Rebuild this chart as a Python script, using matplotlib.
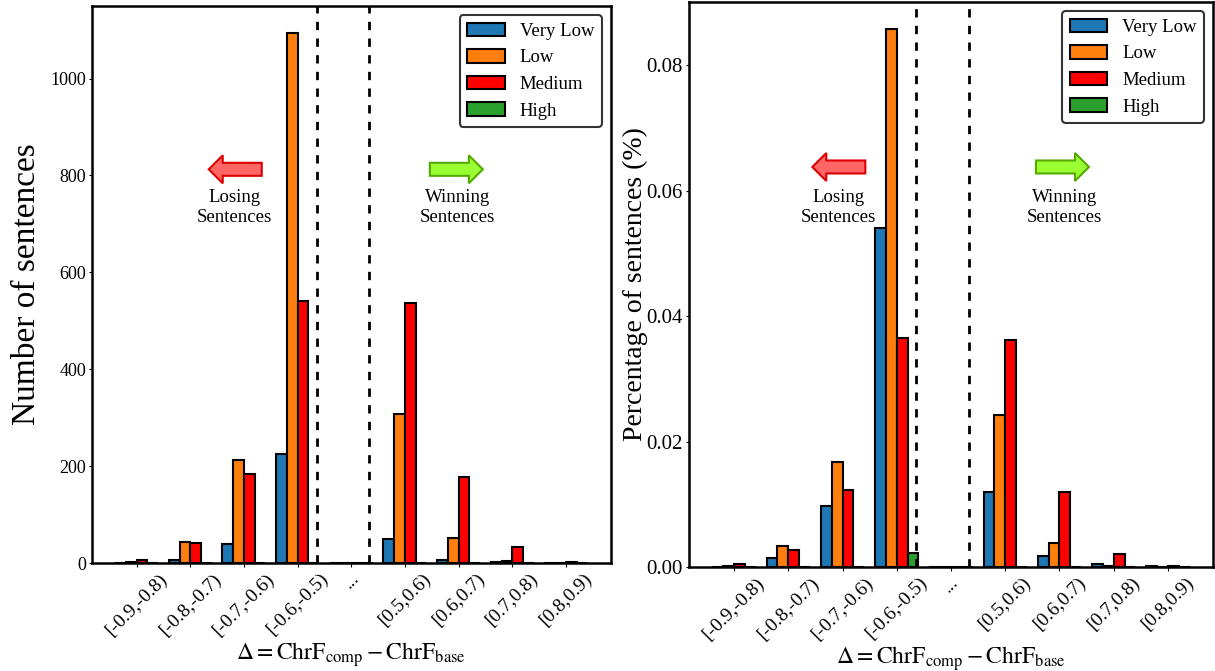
import numpy as np
import matplotlib
matplotlib.use("Agg")
import matplotlib.pyplot as plt
import matplotlib.transforms as mtransforms
from matplotlib.patches import FancyArrow
from matplotlib.ticker import FormatStrFormatter, FuncFormatter

plt.rcParams['font.family'] = ['Liberation Serif', 'DejaVu Serif']
plt.rcParams['mathtext.fontset'] = 'stix'

bins = ['[-0.9,-0.8)', '[-0.8,-0.7)', '[-0.7,-0.6)', '[-0.6,-0.5)', '...',
        '[0.5,0.6)', '[0.6,0.7)', '[0.7,0.8)', '[0.8,0.9)']
categories = ['Very Low', 'Low', 'Medium', 'High']
colors = ['#1f77b4', '#ff7f0e', '#ff0000', '#2ca02c']

count_very_low = [0, 6, 40, 225, 0, 49, 7, 3, 1]
count_low = [2, 44, 213, 1095, 0, 307, 51, 5, 0]
count_medium = [7, 41, 183, 540, 0, 537, 177, 33, 2]
count_high = [0, 0, 0, 1, 0, 0, 0, 0, 0]

pct_very_low = [0, 0.0014, 0.0097, 0.054, 0, 0.0119, 0.0017, 0.0004, 0.0002]
pct_low = [0.0001, 0.0034, 0.0168, 0.0858, 0, 0.0243, 0.0039, 0.0002, 0]
pct_medium = [0.0004, 0.0027, 0.0123, 0.0365, 0, 0.0362, 0.0119, 0.0021, 0.0001]
pct_high = [0, 0, 0, 0.0023, 0, 0, 0, 0, 0]

W, H = 1215, 671
fig = plt.figure(figsize=(W / 100, H / 100), dpi=100)


def px_axes(x0, x1, ytop, ybot):
    return fig.add_axes([x0 / W, (H - ybot) / H, (x1 - x0) / W, (ybot - ytop) / H])


ax1 = px_axes(91.5, 611, 6, 563)
ax2 = px_axes(688.5, 1213.5, 2, 567)


def arrow(ax, xa, ya, direction, fc, ec):
    # arrow drawn in pixel units, anchored at axes fraction (xa, ya) = tail
    tr = mtransforms.Affine2D() + mtransforms.ScaledTranslation(xa, ya, ax.transAxes)
    length = 53
    a = FancyArrow(0, 0, direction * length, 0, width=13, head_width=28,
                   head_length=14, length_includes_head=True,
                   fc=fc, ec=ec, lw=1.5, transform=tr, clip_on=False)
    ax.add_patch(a)


def draw(ax, series, ylabel, ylabel_size, ylabelpad, ytick_size, yfmt, ann):
    x = np.arange(len(bins))
    w = 0.2
    offsets = [-1.5 * w, -0.5 * w, 0.5 * w, 1.5 * w]
    for vals, lab, col, off in zip(series, categories, colors, offsets):
        ax.bar(x + off, vals, width=w, color=col, edgecolor='black',
               linewidth=1.5, label=lab)
    ax.axvline(3.36, color='black', lw=2, ls=(0, (3, 3)))
    ax.axvline(4.33, color='black', lw=2, ls=(0, (3, 3)))
    ax.set_xticks(x)
    ax.set_xticklabels(bins, rotation=45, fontsize=14)
    ax.tick_params(axis='x', length=3, pad=2)
    ax.tick_params(axis='y', labelsize=ytick_size, length=2, pad=2)
    ax.yaxis.set_major_formatter(yfmt)
    ax.set_ylabel(ylabel, fontsize=ylabel_size, labelpad=ylabelpad)
    ax.set_xlabel(r'$\Delta = \mathrm{ChrF}_{\mathrm{comp}} - \mathrm{ChrF}_{\mathrm{base}}$',
                  fontsize=17, labelpad=1)
    for s in ax.spines.values():
        s.set_linewidth(1.8)
    leg = ax.legend(loc='upper right', fontsize=13.5, labelspacing=0.5,
                    framealpha=1, edgecolor='#333333')
    leg.get_frame().set_linewidth(1.5)
    (rt, rtip, lx, gt, gtip, wx, ay, ty) = ann
    arrow(ax, rt, ay, -1, '#ff6666', '#dd0000')
    arrow(ax, gt, ay, 1, '#99ff33', '#55aa00')
    ax.text(lx, ty, 'Losing\nSentences', transform=ax.transAxes,
            ha='center', va='center', fontsize=13.5)
    ax.text(wx, ty, 'Winning\nSentences', transform=ax.transAxes,
            ha='center', va='center', fontsize=13.5)


draw(ax1, [count_very_low, count_low, count_medium, count_high],
     'Number of sentences', 24, 6, 13, FuncFormatter(lambda v, p: f'{v:.0f}'),
     (0.3277, 0.2245, 0.2757, 0.6513, 0.7536, 0.7042, 0.7068, 0.6385))
draw(ax2, [pct_very_low, pct_low, pct_medium, pct_high],
     'Percentage of sentences (%)', 20, -1, 15, FormatStrFormatter('%.2f'),
     (0.3368, 0.2341, 0.2848, 0.6619, 0.7638, 0.7164, 0.7080, 0.6365))

fig.savefig('out.png', dpi=100)
